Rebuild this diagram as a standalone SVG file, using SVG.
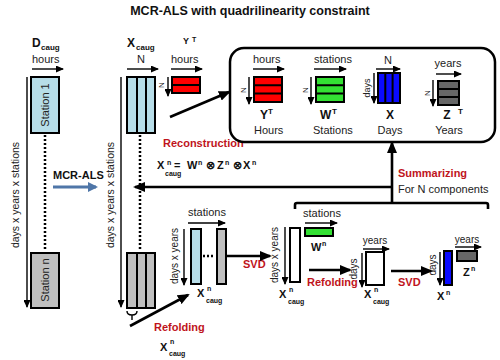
<svg xmlns="http://www.w3.org/2000/svg" width="500" height="360" viewBox="0 0 500 360">
<style>
text{font-family:"Liberation Sans",Arial,sans-serif;font-size:11px;fill:#222}
.b{font-weight:bold;fill:#111}
.r{font-weight:bold;fill:#c0141c}
.s{font-size:7px}
.l{stroke:#000;stroke-width:1.4;fill:none}
.k{stroke:#000;stroke-width:2.6;fill:none}
.box{stroke:#000;stroke-width:2}
.dot{stroke:#000;stroke-width:2.5;stroke-dasharray:2 2;fill:none}
.lb{fill:#b7dde8}.gr{fill:#bfbfbf}.rd{fill:#ff0000}.gn{fill:#33e033}.bl{fill:#0a0aff}.dg{fill:#666}.wh{fill:#fff}
</style>
<defs>
<marker id="a" markerUnits="userSpaceOnUse" markerWidth="8" markerHeight="7" refX="7" refY="3.5" orient="auto"><path d="M0 0L8 3.5L0 7z" fill="#000"/></marker>
<marker id="A" markerUnits="userSpaceOnUse" markerWidth="12" markerHeight="10" refX="10" refY="5" orient="auto"><path d="M0 0L12 5L0 10z" fill="#000"/></marker>
<marker id="B" markerUnits="userSpaceOnUse" markerWidth="10" markerHeight="10" refX="8" refY="5" orient="auto"><path d="M0 0L10 5L0 10z" fill="#4f76a8"/></marker>
</defs>

<text x="250" y="15" text-anchor="middle" class="b" style="font-size:12.5px">MCR-ALS with quadrilinearity constraint</text>

<g id="dcaug">
<text x="32" y="47" class="b" style="font-size:12px">D</text><text x="41" y="50" class="b" style="font-size:8px">caug</text>
<text x="32" y="63">hours</text>
<line x1="32" y1="69" x2="63" y2="69" class="l" marker-end="url(#a)"/>
<rect x="31" y="77" width="28" height="56" class="box lb"/>
<text transform="translate(49,105) rotate(-90)" text-anchor="middle">Station 1</text>
<line x1="27" y1="77" x2="27" y2="307" class="l" marker-end="url(#a)"/>
<text transform="translate(19,195) rotate(-90)" text-anchor="middle" style="font-size:10.5px">days x years x stations</text>
<line x1="45" y1="135" x2="45" y2="251" class="dot"/>
<rect x="31" y="253" width="28" height="55" class="box gr"/>
<text transform="translate(49,280) rotate(-90)" text-anchor="middle">Station n</text>
</g>

<g id="mcrals">
<text x="53" y="179" class="b">MCR-ALS</text>
<line x1="53" y1="187" x2="96" y2="187" stroke="#4f76a8" stroke-width="3" marker-end="url(#B)"/>
</g>

<g id="xcaug">
<text x="127" y="47" class="b" style="font-size:12px">X</text><text x="136" y="50" class="b" style="font-size:8px">caug</text>
<text x="141" y="63" text-anchor="middle">N</text>
<line x1="127" y1="69" x2="158" y2="69" class="l" marker-end="url(#a)"/>
<rect x="127" y="77" width="28" height="56" class="box lb"/>
<path d="M137 77V133M146 77V133" class="box"/>
<line x1="121" y1="77" x2="121" y2="307" class="l" marker-end="url(#a)"/>
<text transform="translate(114,195) rotate(-90)" text-anchor="middle" style="font-size:10.5px">days x years x stations</text>
<line x1="140" y1="135" x2="140" y2="251" class="dot"/>
<rect x="127" y="253" width="28" height="55" class="box gr"/>
<path d="M137 253V308M146 253V308" class="box"/>
<path d="M127 311q0 4 5 4q5 0 5-4M132 315v5" class="l" stroke-width="1"/>
</g>

<g id="refold1">
<text x="154" y="331" class="r">Refolding</text>
<text x="160" y="351" class="b">X</text><text x="170" y="344" class="b s">n</text><text x="169" y="356" class="b s">caug</text>
</g>

<g id="yt">
<text x="183" y="44" class="b" style="font-size:9px">Y</text><text x="192" y="42" class="b s">T</text>
<text x="171" y="63">hours</text>
<line x1="171" y1="69" x2="202" y2="69" class="l" marker-end="url(#a)"/>
<text transform="translate(164,85) rotate(-90)" text-anchor="middle" style="font-size:8px">N</text>
<line x1="168" y1="77" x2="168" y2="96" class="l" marker-end="url(#a)"/>
<rect x="172" y="77" width="28" height="16" class="box rd"/>
<line x1="172" y1="85" x2="200" y2="85" class="box"/>
</g>

<g id="recon">
<text x="163" y="147" class="r">Reconstruction</text>
</g>

<g id="factors">
<rect x="230" y="48" width="265" height="94" rx="14" fill="#fff" stroke="#000" stroke-width="2.5"/>
<text x="253" y="63">hours</text>
<line x1="253" y1="69" x2="284" y2="69" class="l" marker-end="url(#a)"/>
<text transform="translate(246,90) rotate(-90)" text-anchor="middle" style="font-size:8px">N</text>
<line x1="249" y1="77" x2="249" y2="104" class="l" marker-end="url(#a)"/>
<rect x="254" y="77" width="28" height="25" class="box rd"/>
<path d="M254 85.3H282M254 93.6H282" class="box"/>
<text x="260" y="119" class="b" style="font-size:12px">Y</text><text x="268" y="114" class="b" style="font-size:8px">T</text>
<text x="254" y="134">Hours</text>

<text x="314" y="63">stations</text>
<line x1="314" y1="69" x2="346" y2="69" class="l" marker-end="url(#a)"/>
<text transform="translate(308,90) rotate(-90)" text-anchor="middle" style="font-size:8px">N</text>
<line x1="311" y1="77" x2="311" y2="104" class="l" marker-end="url(#a)"/>
<rect x="316" y="77" width="28" height="25" class="box gn"/>
<path d="M316 85.3H344M316 93.6H344" class="box"/>
<text x="320" y="119" class="b" style="font-size:12px">W</text><text x="332" y="114" class="b" style="font-size:8px">T</text>
<text x="313" y="134">Stations</text>

<text x="388" y="64" text-anchor="middle">N</text>
<line x1="376" y1="69" x2="400" y2="69" class="l" marker-end="url(#a)"/>
<text transform="translate(370,88) rotate(-90)" text-anchor="middle" style="font-size:9px">days</text>
<line x1="374" y1="73" x2="374" y2="103" class="l" marker-end="url(#a)"/>
<rect x="378" y="73" width="22" height="30" class="box bl"/>
<path d="M385.3 73V103M392.6 73V103" class="box"/>
<text x="390" y="119" text-anchor="middle" class="b" style="font-size:12px">X</text>
<text x="390" y="134" text-anchor="middle">Days</text>

<text x="448" y="67" text-anchor="middle">years</text>
<line x1="436" y1="74" x2="461" y2="74" class="l" marker-end="url(#a)"/>
<text transform="translate(430,93) rotate(-90)" text-anchor="middle" style="font-size:8px">N</text>
<line x1="433" y1="80" x2="433" y2="106" class="l" marker-end="url(#a)"/>
<rect x="438" y="81" width="21" height="24" class="box dg"/>
<path d="M438 89H459M438 97H459" class="box"/>
<text x="447" y="119" text-anchor="middle" class="b" style="font-size:12px">Z</text><text x="458" y="114" class="b" style="font-size:8px">T</text>
<text x="449" y="134" text-anchor="middle">Years</text>
</g>

<g id="equation">
<text x="157" y="169" class="b">X</text><text x="167" y="165" class="b s">n</text><text x="165" y="176" class="b s">caug</text>
<text x="174" y="169" class="b">=</text>
<text x="187" y="169" class="b">W</text><text x="198" y="165" class="b s">n</text>
<text x="206" y="169" class="b">⊗</text>
<text x="217" y="169" class="b">Z</text><text x="225" y="165" class="b s">n</text>
<text x="233" y="169" class="b">⊗</text>
<text x="243" y="169" class="b">X</text><text x="252" y="165" class="b s">n</text>
</g>

<g id="summ">
<text x="398" y="177" class="r">Summarizing</text>
<text x="398" y="193">For N components</text>
</g>

<g id="unfold">
<text x="188" y="216">stations</text>
<line x1="188" y1="223" x2="225" y2="223" class="l" marker-end="url(#a)"/>
<text transform="translate(178,256) rotate(-90)" text-anchor="middle" style="font-size:10px">days x years</text>
<line x1="184" y1="229" x2="184" y2="285" class="l" marker-end="url(#a)"/>
<rect x="191" y="229" width="10" height="55" class="box lb"/>
<line x1="203" y1="256" x2="215" y2="256" class="dot"/>
<rect x="217" y="229" width="9" height="55" class="box gr"/>
<text x="197" y="297" class="b">X</text><text x="207" y="291" class="b s">n</text><text x="206" y="303" class="b s">caug</text>
<text x="243" y="268" class="r">SVD</text>
</g>

<g id="wn">
<text transform="translate(278,255) rotate(-90)" text-anchor="middle" style="font-size:10px">days x years</text>
<line x1="285" y1="227" x2="285" y2="284" class="l" marker-end="url(#a)"/>
<rect x="290" y="228" width="10" height="54" class="box wh"/>
<text x="303" y="217">stations</text>
<line x1="305" y1="223" x2="337" y2="223" class="l" marker-end="url(#a)"/>
<rect x="305" y="228" width="28" height="8" class="box gn"/>
<text x="311" y="251" class="b">W</text><text x="322" y="246" class="b s">n</text>
<text x="279" y="298" class="b">X</text><text x="289" y="292" class="b s">n</text><text x="288" y="304" class="b s">caug</text>
<text x="307" y="286" class="r">Refolding</text>
</g>

<g id="refold">
<text x="375" y="244" text-anchor="middle" style="font-size:10px">years</text>
<line x1="363" y1="249" x2="389" y2="249" class="l" marker-end="url(#a)"/>
<text transform="translate(357,269) rotate(-90)" text-anchor="middle" style="font-size:10px">days</text>
<line x1="362" y1="253" x2="362" y2="287" class="l" marker-end="url(#a)"/>
<rect x="366" y="252" width="18" height="33" class="box wh"/>
<text x="364" y="298" class="b">X</text><text x="374" y="292" class="b s">n</text><text x="373" y="304" class="b s">caug</text>
<text x="398" y="286" class="r">SVD</text>
</g>

<g id="xnzn">
<text transform="translate(436,265) rotate(-90)" text-anchor="middle" style="font-size:10px">days</text>
<line x1="440" y1="252" x2="440" y2="285" class="l" marker-end="url(#a)"/>
<rect x="444" y="251" width="8" height="34" class="box bl"/>
<text x="437" y="300" class="b">X</text><text x="446" y="295" class="b s">n</text>
<text x="467" y="243" text-anchor="middle" style="font-size:10px">years</text>
<line x1="455" y1="247" x2="481" y2="247" class="l" marker-end="url(#a)"/>
<rect x="457" y="251" width="20" height="10" class="box dg"/>
<text x="463" y="276" class="b">Z</text><text x="471" y="271" class="b s">n</text>
</g>

<g id="connectors">
<line x1="130" y1="326" x2="188" y2="295" class="k" marker-end="url(#A)"/>
<line x1="170" y1="117" x2="229" y2="92" class="k" marker-end="url(#A)"/>
<polyline points="392,187 135,187" class="k" marker-end="url(#A)"/>
<line x1="392" y1="203" x2="392" y2="143" class="k" marker-end="url(#A)"/>
<path d="M295 209V205Q295 203 297 203H486Q488 203 488 205V209" class="k" stroke-width="2"/>
<line x1="226" y1="256" x2="270" y2="256" class="k" marker-end="url(#A)"/>
<line x1="309" y1="270" x2="350" y2="270" class="k" marker-end="url(#A)"/>
<line x1="391" y1="271" x2="431" y2="271" class="k" marker-end="url(#A)"/>
</g>
</svg>
